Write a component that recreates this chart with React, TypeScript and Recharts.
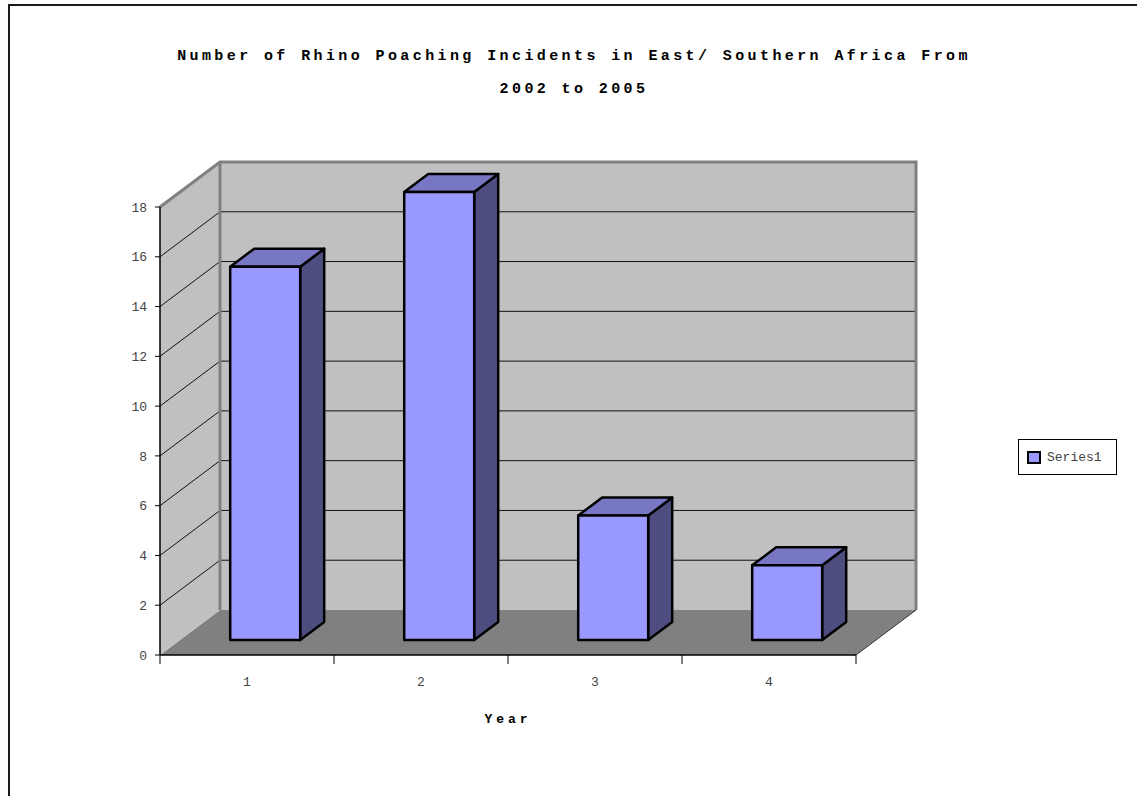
import React from 'react';
import { BarChart, Bar, XAxis, YAxis, ReferenceArea, ReferenceLine, Legend } from 'recharts';

const years = ['1', '2', '3', '4'];
const incidents = [15, 18, 5, 3];
const yTicks = [0, 2, 4, 6, 8, 10, 12, 14, 16, 18];
const gridValues = [2, 4, 6, 8, 10, 12, 14, 16];
const seriesName = 'Series1';
const titleLines = ['Number of Rhino Poaching Incidents in East/ Southern Africa From', '2002 to 2005'];
const xTitle = 'Year';

const data = years.map((year, i) => ({ year, incidents: incidents[i] }));

const DX = 60;
const DY = 45;
const BAR_SHIFT_X = 18;
const BAR_SHIFT_Y = -15;
const BAR_DX = 24;
const BAR_DY = -18;
const MONO = '"Liberation Mono", "DejaVu Sans Mono", monospace';

const Walls = (p: any) => {
  const { x, y, width, height } = p;
  const b = y + height;
  const r = x + width;
  return (
    <g>
      <polygon points={`${x},${b} ${x + DX},${b - DY} ${r + DX},${b - DY} ${r},${b}`} fill="#808080" />
      <polygon points={`${x},${y} ${x + DX},${y - DY} ${x + DX},${b - DY} ${x},${b}`} fill="#c0c0c0" />
      <rect x={x + DX} y={y - DY} width={width} height={height} fill="#c0c0c0" />
      <line x1={r} y1={b} x2={r + DX} y2={b - DY} stroke="#333" strokeWidth={1} />
    </g>
  );
};

const WallFrame = (p: any) => {
  const { x, y, width, height } = p;
  const b = y + height;
  const r = x + width;
  return (
    <g fill="none" stroke="#808080" strokeWidth={3}>
      <polyline points={`${x},${y} ${x + DX},${y - DY} ${r + DX},${y - DY} ${r + DX},${b - DY}`} strokeLinejoin="miter" />
      <line x1={x + DX} y1={y - DY} x2={x + DX} y2={b - DY} />
    </g>
  );
};

const GridLine = (p: any) => {
  const { x1, y1, x2 } = p;
  if (x1 == null || y1 == null) return <g />;
  return (
    <polyline
      points={`${x1},${y1} ${x1 + DX},${y1 - DY} ${x2 + DX},${y1 - DY}`}
      fill="none"
      stroke="#111"
      strokeWidth={1}
    />
  );
};

const Bar3D = (p: any) => {
  const { x, y, width, height } = p;
  if (x == null || !height) return <g />;
  const fx = x + BAR_SHIFT_X;
  const fy = y + BAR_SHIFT_Y;
  const w = width;
  const h = height;
  return (
    <g stroke="#000" strokeWidth={2.5} strokeLinejoin="round">
      <polygon
        points={`${fx + w},${fy} ${fx + w + BAR_DX},${fy + BAR_DY} ${fx + w + BAR_DX},${fy + h + BAR_DY} ${fx + w},${fy + h}`}
        fill="#4d4d80"
      />
      <polygon
        points={`${fx},${fy} ${fx + BAR_DX},${fy + BAR_DY} ${fx + w + BAR_DX},${fy + BAR_DY} ${fx + w},${fy}`}
        fill="#7777c4"
      />
      <rect x={fx} y={fy} width={w} height={h} fill="#9999ff" />
    </g>
  );
};

const XTick = (p: any) => {
  const { x, y, payload, index, visibleTicksCount, width } = p;
  const half = width && visibleTicksCount ? width / visibleTicksCount / 2 : 87;
  return (
    <g>
      <line x1={x - half} y1={y} x2={x - half} y2={y + 9} stroke="#000" strokeWidth={1} />
      {index === visibleTicksCount - 1 && (
        <line x1={x + half} y1={y} x2={x + half} y2={y + 9} stroke="#000" strokeWidth={1} />
      )}
      <text x={x} y={y + 31} textAnchor="middle" fill="#444" fontSize={13} fontFamily={MONO}>
        {payload.value}
      </text>
    </g>
  );
};

const LegendBox = (p: any) => {
  const name = p && p.payload && p.payload[0] ? p.payload[0].value : seriesName;
  return (
    <div
      style={{
        boxSizing: 'border-box',
        width: 99,
        height: 36,
        border: '1px solid #000',
        background: '#fff',
        display: 'flex',
        alignItems: 'center',
        paddingLeft: 8,
      }}
    >
      <span
        style={{
          display: 'inline-block',
          boxSizing: 'border-box',
          width: 14,
          height: 13,
          border: '2px solid #000',
          background: '#9999ff',
        }}
      />
      <span style={{ marginLeft: 6, fontFamily: MONO, fontSize: 13, color: '#444' }}>{name}</span>
    </div>
  );
};

export default function App() {
  return (
    <div style={{ position: 'absolute', left: 0, top: 0, width: 1137, height: 796, overflow: 'hidden', background: '#fff' }}>
      <div
        style={{
          position: 'absolute',
          left: 8,
          top: 4,
          width: 1200,
          height: 900,
          borderLeft: '2px solid #1a1a1a',
          borderTop: '2px solid #1a1a1a',
        }}
      />
      {titleLines.map((t, i) => (
        <div
          key={i}
          style={{
            position: 'absolute',
            left: 0,
            width: 1148,
            top: i === 0 ? 47 : 80,
            height: 20,
            lineHeight: '20px',
            textAlign: 'center',
            fontFamily: MONO,
            fontWeight: 'bold',
            fontSize: 15,
            letterSpacing: 3.4,
            color: '#000',
            whiteSpace: 'nowrap',
          }}
        >
          {t}
        </div>
      ))}
      <div style={{ position: 'absolute', left: 0, top: 0 }}>
        <BarChart
          width={1137}
          height={796}
          data={data}
          margin={{ top: 207, right: 281, bottom: 101, left: 100 }}
          barCategoryGap="30%"
        >
          <ReferenceArea y1={0} y2={18} shape={Walls} zIndex={-300} ifOverflow="visible" />
          {gridValues.map((v) => (
            <ReferenceLine key={v} y={v} shape={GridLine} zIndex={-250} ifOverflow="visible" />
          ))}
          <ReferenceArea y1={0} y2={18} shape={WallFrame} zIndex={-240} ifOverflow="visible" />
          <XAxis
            dataKey="year"
            height={40}
            interval={0}
            tickLine={false}
            tickSize={0}
            tickMargin={0}
            axisLine={{ stroke: '#000', strokeWidth: 1.5 }}
            tick={(p: any) => <XTick {...p} />}
            label={{
              value: xTitle,
              position: 'bottom',
              offset: 19,
              fill: '#000',
              fontSize: 13,
              fontWeight: 'bold',
              fontFamily: MONO,
              letterSpacing: 4,
            }}
          />
          <YAxis
            type="number"
            domain={[0, 18]}
            ticks={yTicks}
            interval={0}
            width={60}
            axisLine={{ stroke: '#000', strokeWidth: 1.5 }}
            tickLine={{ stroke: '#000' }}
            tickSize={5}
            tickMargin={8}
            tick={{ fill: '#444', fontSize: 13, fontFamily: MONO }}
          />
          <Bar dataKey="incidents" name={seriesName} fill="#9999ff" shape={Bar3D} isAnimationActive={false} />
          <Legend
            layout="horizontal"
            verticalAlign="middle"
            align="center"
            wrapperStyle={{ position: 'absolute', left: 1018, top: 439, width: 99, height: 36, margin: 0 }}
            content={LegendBox}
          />
        </BarChart>
      </div>
    </div>
  );
}
